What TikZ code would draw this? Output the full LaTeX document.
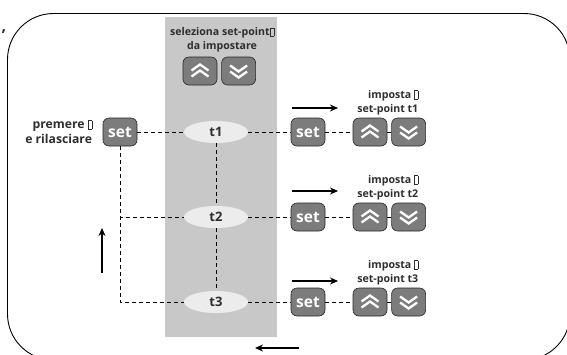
\documentclass[tikz,border=0pt]{standalone}
\usepackage{fontspec}
\setmainfont{Open Sans}
\usetikzlibrary{shapes.geometric, arrows.meta, positioning}
\definecolor{kgray}{HTML}{7C7C7C}
\definecolor{kband}{HTML}{C8C8C8}
\definecolor{kell}{HTML}{ECECEC}
\definecolor{kdark}{HTML}{2E2E2E}
% small empty glyph box
\newcommand{\tofu}{{\setlength{\fboxsep}{0pt}\setlength{\fboxrule}{0.4pt}\fbox{\rule{0pt}{8pt}\hspace{3.4pt}}}}
\tikzset{
  btn/.style = {rectangle, rounded corners=6pt, minimum width=34pt, minimum height=28pt, inner sep=0pt, fill=kgray, draw=black!85, line width=0.6pt, text=white, font=\bfseries\fontsize{15.5}{15.5}\selectfont},
  chev/.style = {white, line width=2.3pt, sharp corners},
  btnup/.style = {btn, path picture={
      \draw[chev] ([shift={(-8.5pt,0.5pt)}]path picture bounding box.center) -- ++(8.5pt,6pt) -- ++(8.5pt,-6pt);
      \draw[chev] ([shift={(-8.5pt,-5.5pt)}]path picture bounding box.center) -- ++(8.5pt,6pt) -- ++(8.5pt,-6pt);}},
  btndn/.style = {btn, path picture={
      \draw[chev] ([shift={(-8.5pt,5.5pt)}]path picture bounding box.center) -- ++(8.5pt,-6pt) -- ++(8.5pt,6pt);
      \draw[chev] ([shift={(-8.5pt,-0.5pt)}]path picture bounding box.center) -- ++(8.5pt,-6pt) -- ++(8.5pt,6pt);}},
  sp/.style = {ellipse, minimum width=64pt, minimum height=22pt, inner sep=0pt, fill=kell, text=kdark, font=\bfseries\fontsize{13}{13}\selectfont},
  txt/.style = {inner sep=1.5pt, text=kdark, font=\bfseries\fontsize{10.6}{14}\selectfont},
  bigtxt/.style = {txt, font=\bfseries\fontsize{12.2}{14.5}\selectfont},
  wire/.style = {line width=0.9pt, dash pattern=on 4pt off 3pt},
  flow/.style = {line width=1.1pt, -{Stealth[length=8pt, width=7pt]}},
  border/.style = {line width=0.9pt, rounded corners=46pt}
}
\begin{document}
\begin{tikzpicture}[x=1pt, y=-1pt, node distance=4pt]
  \clip (0,0) rectangle (567,354);
  % frame runs past the page on the right and at the bottom
  \draw[border] (7.5,13.5) rectangle (570,360);
  \fill[kband] (165,17) rectangle (277,337);
  \node (comma) [txt, font=\bfseries\fontsize{16}{16}\selectfont, anchor=base] at (4,31) {,};

  % choice of set-point
  \node (sel) [txt, align=center] at (222,40) {seleziona set-point\tofu\\da impostare};
  \node (selup) [btnup] at (200,71) {};
  \node (seldn) [btndn, right=of selup] {};

  \node (set0) [btn] at (120,132) {set};
  \node (press) [bigtxt, align=right, left=9pt of set0] {premere \tofu\\e rilasciare};

  \foreach \i/\y/\h in {1/132/24, 2/217/26, 3/302/21} {
    \node (t\i) [sp] at (216,\y) {t\i};
    \node (set\i) [btn] at (308,\y) {set};
    \node (up\i) [btnup] at (370,\y) {};
    \node (dn\i) [btndn, right=of up\i] {};
    \node (lab\i) [txt, align=right, anchor=south east] at (420,\y-15) {imposta \tofu\\set-point t\i};
    \coordinate (ra\i) at (292,\y-\h);
    \coordinate (rb\i) at (338,\y-\h);
    \draw [flow] (ra\i) -- (rb\i);
    \draw [wire] (t\i) -- (set\i);
    \draw [wire] (set\i) -- (up\i);
  }
  \draw [line width=0.9pt] (up1) -- (dn1);
  \draw [wire] (up2) -- (dn2);
  \draw [wire] (up3) -- (dn3);

  \draw [wire] (set0) -- (t1);
  \draw [wire] (set0) |- (t2);
  \draw [wire] (set0) |- (t3);
  \draw [wire] (t1) -- (t2) -- (t3);

  % return arrows
  \coordinate (ua) at (102,273);
  \coordinate (ub) at (102,228);
  \draw [flow] (ua) -- (ub);
  \coordinate (ba) at (299,348);
  \coordinate (bb) at (255,348);
  \draw [flow] (ba) -- (bb);
\end{tikzpicture}
\end{document}
